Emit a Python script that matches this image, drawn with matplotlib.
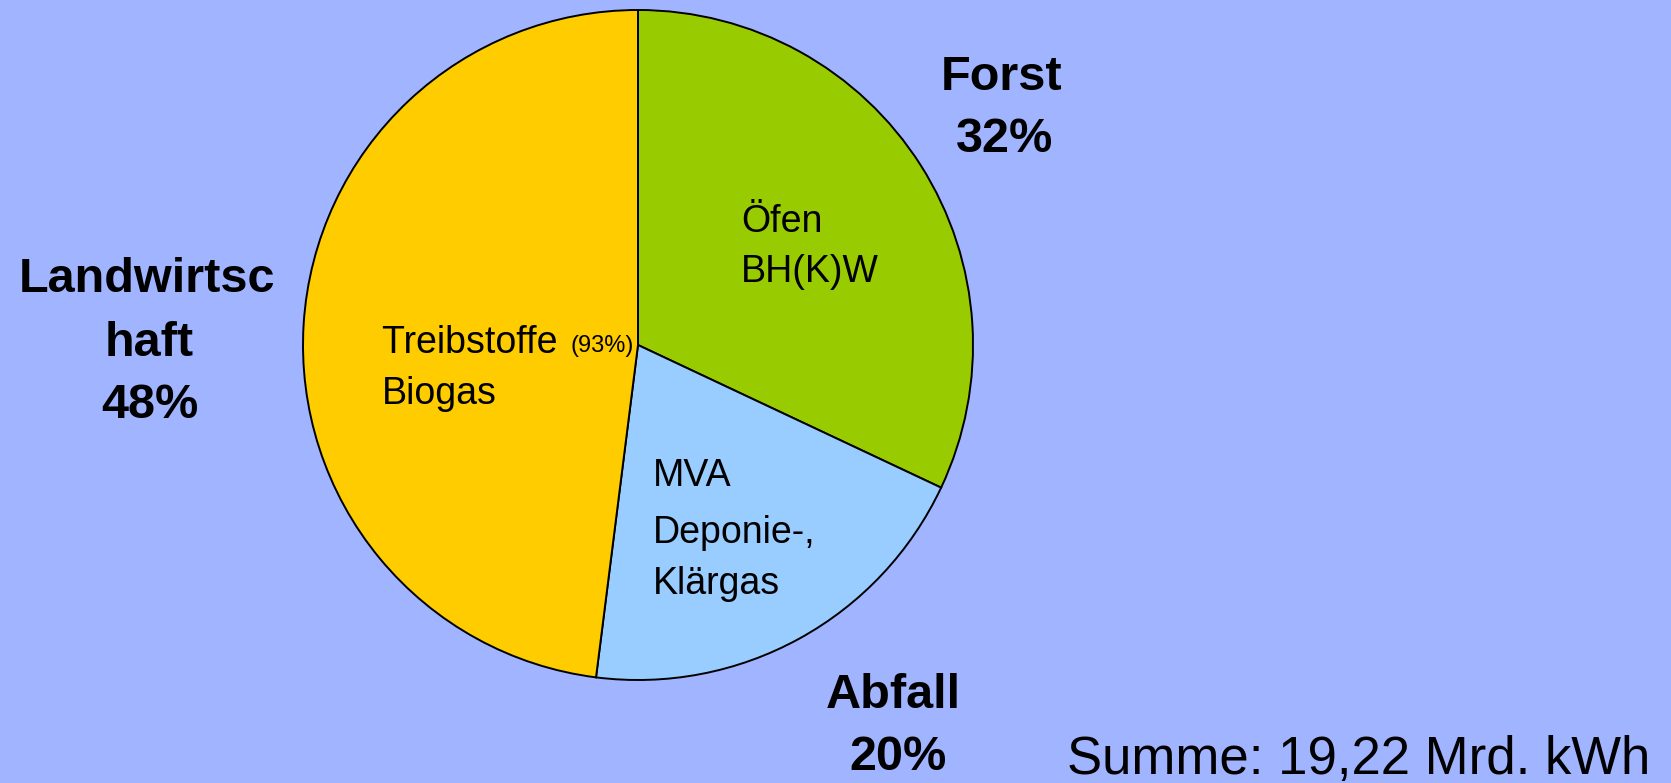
import matplotlib.pyplot as plt

# Biomasse-Anteile nach Herkunft
sektoren = ["Forst", "Abfall", "Landwirtschaft"]
anteile = [32, 20, 48]
farben = ["#99CC00", "#99CCFF", "#FFCC00"]

bg = "#A0B4FF"
W, H = 1671, 783

fig = plt.figure(figsize=(W / 100, H / 100), dpi=100, facecolor=bg)
ax = fig.add_axes([0, 0, 1, 1])
ax.set_facecolor(bg)

ax.pie(anteile, colors=farben, startangle=90, counterclock=False,
       center=(638, H - 345), radius=335,
       wedgeprops=dict(edgecolor="black", linewidth=1.4))
ax.set_xlim(0, W)
ax.set_ylim(0, H)
ax.set_aspect("equal")
ax.axis("off")

font = "Liberation Sans"


def txt(x, y, s, size, weight="normal", ha="center"):
    # x, y in Pixel von oben links
    ax.text(x, H - y, s, fontsize=size, fontweight=weight, ha=ha, va="center",
            family=font, color="black")


# Hauptbeschriftungen
txt(1002, 78, "Forst", 35, "bold")
txt(1005, 139, "32%", 35, "bold")
txt(147, 279, "Landwirtsc", 35, "bold")
txt(149, 343, "haft", 35, "bold")
txt(150, 406, "48%", 35, "bold")
txt(893, 696, "Abfall", 35, "bold")
txt(898, 757, "20%", 35, "bold")

# Innenbeschriftungen
txt(741, 222, "Öfen", 27, ha="left")
txt(741, 272, "BH(K)W", 27, ha="left")
ax.text(382, H - 343, "Treibstoffe ", fontsize=27, ha="left", va="center", family=font)
ax.text(570, H - 346, "(93%)", fontsize=17, ha="left", va="center", family=font)
txt(382, 394, "Biogas", 27, ha="left")
txt(653, 476, "MVA", 27, ha="left")
txt(653, 533, "Deponie-,", 27, ha="left")
txt(653, 584, "Klärgas", 27, ha="left")

txt(1650, 760, "Summe: 19,22 Mrd. kWh", 38, ha="right")

fig.savefig("out.png", dpi=100, facecolor=bg)
